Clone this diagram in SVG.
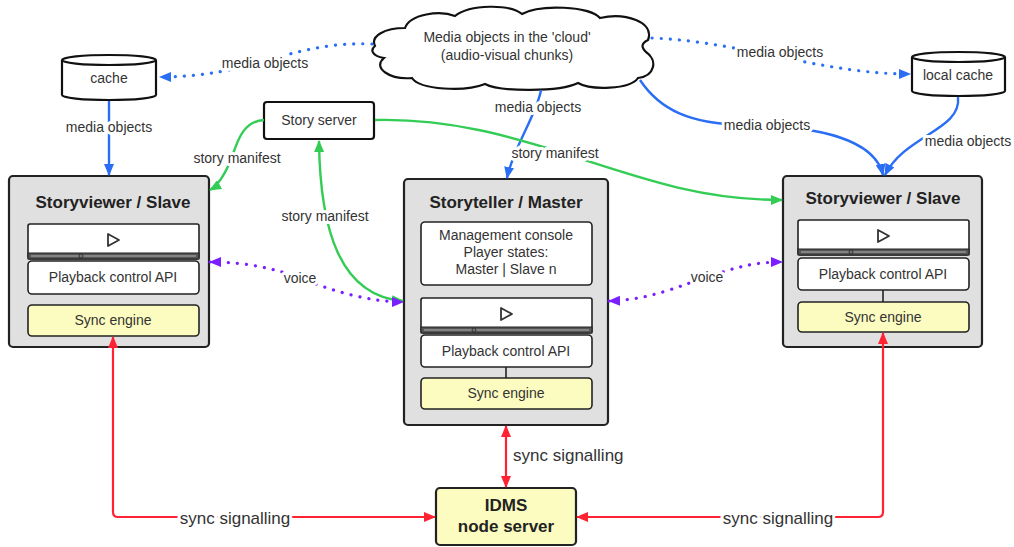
<svg xmlns="http://www.w3.org/2000/svg" width="1014" height="547" viewBox="0 0 1014 547">
  <style>
    .t { font-family: "Liberation Sans", Arial, sans-serif; fill: #333; font-size: 14px; text-anchor: middle; }
    .title { font-weight: bold; font-size: 17px; fill: #222; }
    .lbl { paint-order: stroke; stroke: #fff; stroke-width: 6px; stroke-linejoin: round; }
    .big { font-size: 17px; }
    .box { fill: #e0e0e0; stroke: #222; stroke-width: 2.2; }
    .pane { fill: #fff; stroke: #222; stroke-width: 1.6; }
    .sync { fill: #fcfcc0; stroke: #222; stroke-width: 1.6; }
    .shape { fill: #fff; stroke: #111; stroke-width: 2.2; }
    .blue { fill: none; stroke: #2a6ef5; stroke-width: 2.4; }
    .blue-dot { fill: none; stroke: #2a6ef5; stroke-width: 3.2; stroke-linecap: round; stroke-dasharray: 0.1 9; }
    .green { fill: none; stroke: #33cc55; stroke-width: 2.4; }
    .purple-dot { fill: none; stroke: #7a1fff; stroke-width: 3.2; stroke-linecap: round; stroke-dasharray: 0.1 9; }
    .red { fill: none; stroke: #ff2233; stroke-width: 2.2; }
  </style>
  <defs>
    <marker id="ab" viewBox="0 0 12 10" refX="11" refY="5" markerWidth="12" markerHeight="10" markerUnits="userSpaceOnUse" orient="auto-start-reverse">
      <path d="M0,0 L12,5 L0,10 z" fill="#2a6ef5"/>
    </marker>
    <marker id="ag" viewBox="0 0 12 10" refX="11" refY="5" markerWidth="12" markerHeight="10" markerUnits="userSpaceOnUse" orient="auto-start-reverse">
      <path d="M0,0 L12,5 L0,10 z" fill="#33cc55"/>
    </marker>
    <marker id="ap" viewBox="0 0 12 10" refX="11" refY="5" markerWidth="12" markerHeight="10" markerUnits="userSpaceOnUse" orient="auto-start-reverse">
      <path d="M0,0 L12,5 L0,10 z" fill="#7a1fff"/>
    </marker>
    <marker id="ar" viewBox="0 0 12 10" refX="11" refY="5" markerWidth="12" markerHeight="10" markerUnits="userSpaceOnUse" orient="auto-start-reverse">
      <path d="M0,0 L12,5 L0,10 z" fill="#ff2233"/>
    </marker>
    <!-- media player strip: screen with play glyph and scrub bar -->
    <g id="player">
      <rect class="pane" x="0" y="0" width="171" height="35" rx="2"/>
      <path d="M80,10 L80,22 L91,16 Z" fill="none" stroke="#333" stroke-width="1.8" stroke-linejoin="round"/>
      <rect x="0" y="29" width="171" height="6" fill="#555" stroke="#222" stroke-width="1"/>
      <line x1="3" y1="32" x2="168" y2="32" stroke="#ccc" stroke-width="0.8"/>
      <circle cx="53" cy="32" r="2" fill="#777" stroke="#222" stroke-width="0.8"/>
    </g>
  </defs>

  <rect width="1014" height="547" fill="#fff"/>

  <!-- media cloud -->
  <g id="cloud">
    <path class="shape" d="M375,46 C370,36 385,28 405,28 C410,14 440,10 455,16 C470,4 510,4 522,14 C540,4 590,6 600,18 C625,12 655,22 648,40 C640,44 642,48 646,52 C658,60 655,76 638,78 C630,90 590,90 578,83 C560,92 500,92 485,84 C465,92 420,90 412,78 C390,80 372,68 384,58 C372,56 370,50 375,46 Z"/>
    <text class="t" x="507" y="42">Media objects in the 'cloud'</text>
    <text class="t" x="507" y="60">(audio-visual chunks)</text>
  </g>

  <!-- left cache -->
  <g id="cache">
    <path class="shape" d="M62,60 A47,5 0 0 1 156,60 L156,95 A47,5 0 0 1 62,95 Z"/>
    <path d="M62,60 A47,5 0 0 0 156,60" fill="none" stroke="#111" stroke-width="2.2"/>
    <text class="t" x="109" y="83">cache</text>
  </g>

  <!-- right local cache -->
  <g id="local-cache">
    <path class="shape" d="M912,57 A46.5,5 0 0 1 1005,57 L1005,91 A46.5,5 0 0 1 912,91 Z"/>
    <path d="M912,57 A46.5,5 0 0 0 1005,57" fill="none" stroke="#111" stroke-width="2.2"/>
    <text class="t" x="958" y="80">local cache</text>
  </g>

  <!-- story server -->
  <g id="story-server">
    <rect class="shape" x="264" y="102" width="110" height="37" rx="3"/>
    <text class="t" x="319" y="125">Story server</text>
  </g>

  <!-- left storyviewer -->
  <g id="viewer-left">
    <rect class="box" x="9" y="176" width="200" height="171" rx="4"/>
    <text class="t title" x="113" y="208">Storyviewer / Slave</text>
    <use href="#player" x="28" y="224"/>
    <rect class="pane" x="28" y="261" width="171" height="33" rx="4"/>
    <text class="t" x="113" y="282">Playback control API</text>
    <rect class="sync" x="28" y="305" width="171" height="31" rx="4"/>
    <text class="t" x="113" y="325">Sync engine</text>
  </g>

  <!-- storyteller master -->
  <g id="master">
    <rect class="box" x="404" y="179" width="204" height="246" rx="4"/>
    <text class="t title" x="506" y="208">Storyteller / Master</text>
    <rect class="pane" x="421" y="222" width="171" height="63" rx="4"/>
    <text class="t" x="506" y="240">Management console</text>
    <text class="t" x="506" y="257">Player states:</text>
    <text class="t" x="506" y="274">Master | Slave n</text>
    <use href="#player" x="421" y="298"/>
    <rect class="pane" x="421" y="335" width="171" height="32" rx="4"/>
    <text class="t" x="506" y="356">Playback control API</text>
    <line x1="506" y1="367" x2="506" y2="378" stroke="#222" stroke-width="1.6"/>
    <rect class="sync" x="421" y="378" width="171" height="31" rx="4"/>
    <text class="t" x="506" y="398">Sync engine</text>
  </g>

  <!-- right storyviewer -->
  <g id="viewer-right">
    <rect class="box" x="783" y="176" width="199" height="171" rx="4"/>
    <text class="t title" x="883" y="204">Storyviewer / Slave</text>
    <use href="#player" x="798" y="220"/>
    <rect class="pane" x="798" y="258" width="171" height="32" rx="4"/>
    <text class="t" x="883" y="279">Playback control API</text>
    <line x1="883" y1="290" x2="883" y2="302" stroke="#222" stroke-width="1.6"/>
    <rect class="sync" x="798" y="302" width="171" height="30" rx="4"/>
    <text class="t" x="883" y="322">Sync engine</text>
  </g>

  <!-- IDMS node server -->
  <g id="idms">
    <rect class="sync" x="436" y="488" width="140" height="57" rx="4" style="stroke-width:2.2"/>
    <text class="t title" x="506" y="511">IDMS</text>
    <text class="t title" x="506" y="532">node server</text>
  </g>

  <!-- connectors, drawn over the nodes so arrowheads reach inner parts -->
  <g id="connectors">
    <!-- media objects (blue) -->
    <path class="blue-dot" d="M372,44 C330,42 295,52 262,62 C225,72 195,77 160,77" marker-end="url(#ab)"/>
    <path class="blue" d="M109,101 L109,175" marker-end="url(#ab)"/>
    <path class="blue" d="M541,90 C537,114 513,148 507,178" marker-end="url(#ab)"/>
    <path class="blue-dot" d="M652,38 C700,40 745,50 785,58 C835,68 870,74 910,74" marker-end="url(#ab)"/>
    <path class="blue" d="M640,80 C660,110 690,124 745,125 C820,126 875,140 883,175" marker-end="url(#ab)"/>
    <path class="blue" d="M958,97 C962,130 905,135 885,175" marker-end="url(#ab)"/>

    <!-- story manifest (green) -->
    <path class="green" d="M264,120 C240,121 236,148 230,162 C223,178 217,186 210,190" marker-end="url(#ag)"/>
    <path class="green" d="M375,120 C450,118 515,138 560,152 C640,178 700,200 782,200" marker-end="url(#ag)"/>
    <path class="green" d="M319,141 C320,230 340,296 403,301" marker-start="url(#ag)" marker-end="url(#ag)"/>

    <!-- voice (purple) -->
    <path class="purple-dot" d="M210,262 C250,262 278,270 300,278 C332,291 370,302 403,302" marker-start="url(#ap)" marker-end="url(#ap)"/>
    <path class="purple-dot" d="M609,301 C650,300 682,285 707,277 C735,268 752,262 782,262" marker-start="url(#ap)" marker-end="url(#ap)"/>

    <!-- sync signalling (red) -->
    <path class="red" d="M113,337 L113,512 Q113,517 118,517 L435,517" marker-start="url(#ar)" marker-end="url(#ar)"/>
    <path class="red" d="M506,426 L506,487" marker-start="url(#ar)" marker-end="url(#ar)"/>
    <path class="red" d="M883,333 L883,512 Q883,517 878,517 L577,517" marker-start="url(#ar)" marker-end="url(#ar)"/>

    <!-- connector labels -->
    <text class="t lbl" x="265" y="68">media objects</text>
    <text class="t lbl" x="109" y="132">media objects</text>
    <text class="t lbl" x="538" y="112">media objects</text>
    <text class="t lbl" x="780" y="57">media objects</text>
    <text class="t lbl" x="767" y="130">media objects</text>
    <text class="t lbl" x="968" y="146">media objects</text>
    <text class="t lbl" x="237" y="163">story manifest</text>
    <text class="t lbl" x="555" y="158">story manifest</text>
    <text class="t lbl" x="325" y="221">story manifest</text>
    <text class="t lbl" x="300" y="283">voice</text>
    <text class="t lbl" x="707" y="282">voice</text>
    <text class="t lbl big" x="235" y="524">sync signalling</text>
    <text class="t lbl big" x="513" y="461" style="text-anchor:start">sync signalling</text>
    <text class="t lbl big" x="778" y="524">sync signalling</text>
  </g>
</svg>
